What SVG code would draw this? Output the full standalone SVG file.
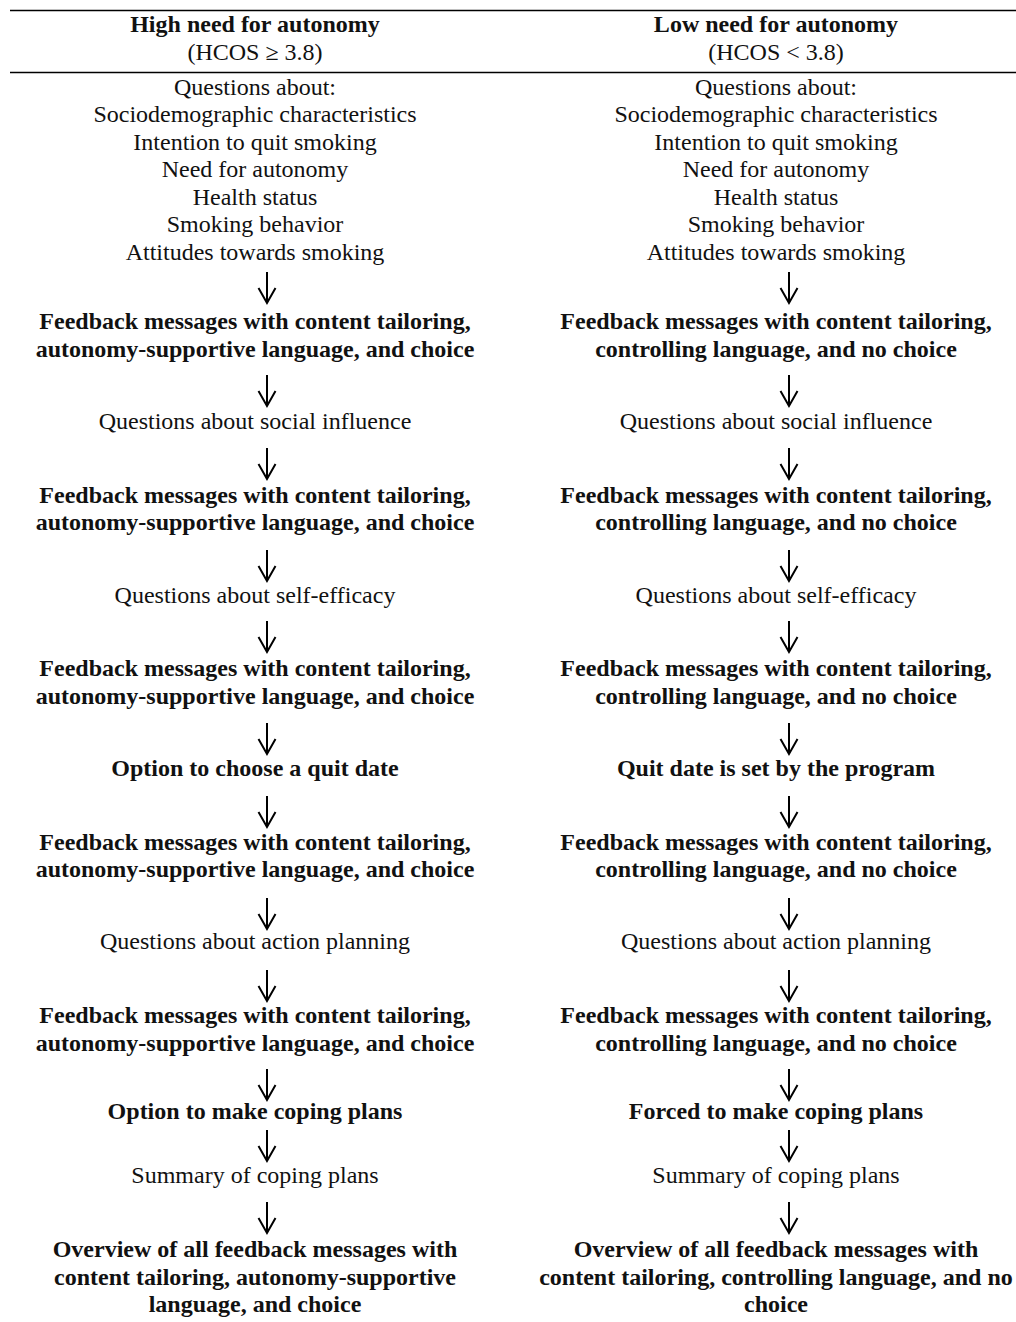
<svg xmlns="http://www.w3.org/2000/svg" width="1016" height="1322" viewBox="0 0 1016 1322">
<style>
.n{font-family:"Liberation Serif","Times New Roman",serif;font-size:23px;fill:#111;text-anchor:middle}
.b{font-family:"Liberation Serif","Times New Roman",serif;font-size:23px;font-weight:bold;fill:#111;text-anchor:middle}
.rule{stroke:#000;stroke-width:1.3}
.arr{fill:none;stroke:#000;stroke-width:2}
</style>
<defs>
<path id="a" class="arr" d="M0,0 V31 M-8.5,16 L0,31 L8.5,16"/>
</defs>
<rect width="1016" height="1322" fill="#fff"/>
<g id="table-rules">
<line class="rule" x1="10" y1="10.5" x2="1016" y2="10.5"/>
<line class="rule" x1="10" y1="72.5" x2="1016" y2="72.5"/>
</g>
<g id="left-column" transform="matrix(1.044,0,0,1,-11.22,0)">
<g id="header-left"><text class="b" x="255" y="32">High need for autonomy</text><text class="n" x="255" y="60">(HCOS ≥ 3.8)</text></g>
<g id="L1"><text class="n" x="255" y="95">Questions about:</text><text class="n" x="255" y="122">Sociodemographic characteristics</text><text class="n" x="255" y="150">Intention to quit smoking</text><text class="n" x="255" y="177">Need for autonomy</text><text class="n" x="255" y="205">Health status</text><text class="n" x="255" y="232">Smoking behavior</text><text class="n" x="255" y="260">Attitudes towards smoking</text></g>
<g id="L2"><text class="b" x="255" y="329">Feedback messages with content tailoring,</text><text class="b" x="255" y="357">autonomy-supportive language, and choice</text></g>
<g id="L3"><text class="n" x="255" y="429">Questions about social influence</text></g>
<g id="L4"><text class="b" x="255" y="503">Feedback messages with content tailoring,</text><text class="b" x="255" y="530">autonomy-supportive language, and choice</text></g>
<g id="L5"><text class="n" x="255" y="603">Questions about self-efficacy</text></g>
<g id="L6"><text class="b" x="255" y="676">Feedback messages with content tailoring,</text><text class="b" x="255" y="704">autonomy-supportive language, and choice</text></g>
<g id="L7"><text class="b" x="255" y="776">Option to choose a quit date</text></g>
<g id="L8"><text class="b" x="255" y="850">Feedback messages with content tailoring,</text><text class="b" x="255" y="877">autonomy-supportive language, and choice</text></g>
<g id="L9"><text class="n" x="255" y="949">Questions about action planning</text></g>
<g id="L10"><text class="b" x="255" y="1023">Feedback messages with content tailoring,</text><text class="b" x="255" y="1051">autonomy-supportive language, and choice</text></g>
<g id="L11"><text class="b" x="255" y="1119">Option to make coping plans</text></g>
<g id="L12"><text class="n" x="255" y="1183">Summary of coping plans</text></g>
<g id="L13"><text class="b" x="255" y="1257">Overview of all feedback messages with</text><text class="b" x="255" y="1285">content tailoring, autonomy-supportive</text><text class="b" x="255" y="1312">language, and choice</text></g>
</g>
<g id="right-column" transform="matrix(1.044,0,0,1,-34.14,0)">
<g id="header-right"><text class="b" x="776" y="32">Low need for autonomy</text><text class="n" x="776" y="60">(HCOS &lt; 3.8)</text></g>
<g id="R1"><text class="n" x="776" y="95">Questions about:</text><text class="n" x="776" y="122">Sociodemographic characteristics</text><text class="n" x="776" y="150">Intention to quit smoking</text><text class="n" x="776" y="177">Need for autonomy</text><text class="n" x="776" y="205">Health status</text><text class="n" x="776" y="232">Smoking behavior</text><text class="n" x="776" y="260">Attitudes towards smoking</text></g>
<g id="R2"><text class="b" x="776" y="329">Feedback messages with content tailoring,</text><text class="b" x="776" y="357">controlling language, and no choice</text></g>
<g id="R3"><text class="n" x="776" y="429">Questions about social influence</text></g>
<g id="R4"><text class="b" x="776" y="503">Feedback messages with content tailoring,</text><text class="b" x="776" y="530">controlling language, and no choice</text></g>
<g id="R5"><text class="n" x="776" y="603">Questions about self-efficacy</text></g>
<g id="R6"><text class="b" x="776" y="676">Feedback messages with content tailoring,</text><text class="b" x="776" y="704">controlling language, and no choice</text></g>
<g id="R7"><text class="b" x="776" y="776">Quit date is set by the program</text></g>
<g id="R8"><text class="b" x="776" y="850">Feedback messages with content tailoring,</text><text class="b" x="776" y="877">controlling language, and no choice</text></g>
<g id="R9"><text class="n" x="776" y="949">Questions about action planning</text></g>
<g id="R10"><text class="b" x="776" y="1023">Feedback messages with content tailoring,</text><text class="b" x="776" y="1051">controlling language, and no choice</text></g>
<g id="R11"><text class="b" x="776" y="1119">Forced to make coping plans</text></g>
<g id="R12"><text class="n" x="776" y="1183">Summary of coping plans</text></g>
<g id="R13"><text class="b" x="776" y="1257">Overview of all feedback messages with</text><text class="b" x="776" y="1285">content tailoring, controlling language, and no</text><text class="b" x="776" y="1312">choice</text></g>
</g>
<g id="connectors">
<use href="#a" x="267" y="272"/><use href="#a" x="267" y="375"/><use href="#a" x="267" y="448"/><use href="#a" x="267" y="550"/><use href="#a" x="267" y="621"/><use href="#a" x="267" y="723"/><use href="#a" x="267" y="796"/><use href="#a" x="267" y="898"/><use href="#a" x="267" y="970"/><use href="#a" x="267" y="1069"/><use href="#a" x="267" y="1130"/><use href="#a" x="267" y="1202"/>
<use href="#a" x="789" y="272"/><use href="#a" x="789" y="375"/><use href="#a" x="789" y="448"/><use href="#a" x="789" y="550"/><use href="#a" x="789" y="621"/><use href="#a" x="789" y="723"/><use href="#a" x="789" y="796"/><use href="#a" x="789" y="898"/><use href="#a" x="789" y="970"/><use href="#a" x="789" y="1069"/><use href="#a" x="789" y="1130"/><use href="#a" x="789" y="1202"/>
</g>
</svg>
